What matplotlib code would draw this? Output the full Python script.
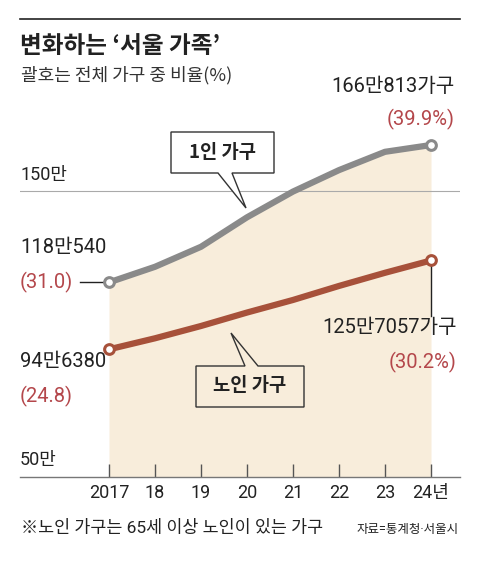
import matplotlib
matplotlib.use("Agg")
import matplotlib.pyplot as plt
import matplotlib.transforms as mtransforms
from matplotlib.patches import Polygon

plt.rcParams['font.family'] = ['Roboto', 'Noto Sans CJK KR', 'DejaVu Sans']

years = [2017, 2018, 2019, 2020, 2021, 2022, 2023, 2024]
tick_labels = ['2017', '18', '19', '20', '21', '22', '23', '24년']
# 만 가구 단위
single = [118.05, 123.5, 130.5, 140.8, 149.8, 157.3, 163.7, 166.08]
elderly = [94.64, 98.5, 102.8, 107.5, 111.9, 116.8, 121.4, 125.71]

single_first = ('118만540', '(31.0)')
single_last = ('166만813가구', '(39.9%)')
elderly_first = ('94만6380', '(24.8)')
elderly_last = ('125만7057가구', '(30.2%)')

W, H = 480, 561
GRAY = '#8a8a8a'
BROWN = '#a7513a'
FILL = '#f8eddb'
RED = '#b4474b'
KR = ['Noto Sans CJK KR', 'DejaVu Sans']

fig = plt.figure(figsize=(W / 100, H / 100), dpi=100)
# 이미지 픽셀 좌표 (y 아래로)
px = mtransforms.Affine2D().scale(1 / W, -1 / H).translate(0, 1) + fig.transFigure

ax = fig.add_axes([20 / W, (H - 477) / H, 440 / W, (477 - 60) / H])
ax.set_xlim(2017 - 89 / 46, 2017 + 351 / 46)
ax.set_ylim(50, 150 + 131 / 2.86)
ax.patch.set_alpha(0)
for s in ['left', 'right', 'top']:
    ax.spines[s].set_visible(False)
ax.spines['bottom'].set_color('#777777')
ax.spines['bottom'].set_linewidth(1)
ax.set_yticks([])
ax.set_xticks(years)
ax.set_xticklabels(tick_labels, fontsize=13, color='#222222')
ax.tick_params(axis='x', direction='in', length=9.5, width=1, color='#555555', pad=5)
ax.axhline(150, color='#aaaaaa', lw=0.8, zorder=1)

ax.fill_between(years, 50, single, color=FILL, lw=0, zorder=0)
ax.plot(years, single, color=GRAY, lw=4.5, solid_capstyle='round', zorder=3,
        marker='o', markevery=[0, -1], ms=7, mfc='white', mec=GRAY, mew=2.2)
ax.plot(years, elderly, color=BROWN, lw=4.5, solid_capstyle='round', zorder=3,
        marker='o', markevery=[0, -1], ms=7, mfc='white', mec=BROWN, mew=2.2)

# 축 라벨
fig.text(20, 175, '150만', transform=px, fontsize=13, va='center', color='#222222')
fig.text(20, 460, '50만', transform=px, fontsize=13, va='center', color='#222222')

# 상단 선, 제목
fig.add_artist(plt.Line2D([20, 460], [19, 19], transform=px, color='#222222', lw=1.2))
fig.text(20, 46, '변화하는 ‘서울 가족’', transform=px, fontsize=17, fontweight='bold',
         va='center', family=KR, color='#222222')
fig.text(21, 75, '괄호는 전체 가구 중 비율(%)', transform=px, fontsize=13,
         va='center', family=KR, color='#333333')

# 값 라벨
LBL = 14.5
fig.text(455, 87, single_last[0], transform=px, fontsize=LBL, ha='right', va='center', color='#222222')
fig.text(455, 119, single_last[1], transform=px, fontsize=LBL, ha='right', va='center', color=RED)
fig.text(20, 248, single_first[0], transform=px, fontsize=LBL, va='center', color='#222222')
fig.text(20, 282, single_first[1], transform=px, fontsize=LBL, va='center', color=RED)
fig.text(20, 362, elderly_first[0], transform=px, fontsize=LBL, va='center', color='#222222')
fig.text(20, 396, elderly_first[1], transform=px, fontsize=LBL, va='center', color=RED)
fig.text(457, 328, elderly_last[0], transform=px, fontsize=LBL, ha='right', va='center', color='#222222')
fig.text(457, 362, elderly_last[1], transform=px, fontsize=LBL, ha='right', va='center', color=RED)

# 지시선
ax.plot([years[0] - 29 / 46, years[0] - 6 / 46], [single[0], single[0]],
        color='#222222', lw=1, clip_on=False, zorder=2)
ax.plot([years[-1], years[-1]], [elderly[-1] - 2, elderly[-1] - 19.5],
        color='#222222', lw=1, clip_on=False, zorder=2)


def bubble(x0, y0, x1, y1, b1, b2, tip, face, bottom=True):
    if bottom:
        pts = [(x0, y0), (x1, y0), (x1, y1), (b2, y1), tip, (b1, y1), (x0, y1)]
    else:
        pts = [(x0, y1), (x1, y1), (x1, y0), (b2, y0), tip, (b1, y0), (x0, y0)]
    fig.add_artist(Polygon(pts, closed=True, transform=px, facecolor=face,
                           edgecolor='#333333', lw=1, zorder=5))


bubble(171, 132, 274, 173, 218, 232, (246, 208), 'white', bottom=True)
fig.text(222.5, 152, '1인 가구', transform=px, fontsize=13.5, fontweight='bold',
         ha='center', va='center', family=KR, color='#222222', zorder=6)
bubble(196, 366, 304, 407, 245, 258, (231, 333), FILL, bottom=False)
fig.text(250, 386, '노인 가구', transform=px, fontsize=13.5, fontweight='bold',
         ha='center', va='center', family=KR, color='#222222', zorder=6)

# 주석
fig.text(21, 528, '※노인 가구는 65세 이상 노인이 있는 가구', transform=px, fontsize=12.5,
         va='center', color='#222222')
fig.text(459, 530, '자료=통계청·서울시', transform=px, fontsize=9, ha='right',
         va='center', color='#222222')

fig.savefig('out.png', dpi=100)
